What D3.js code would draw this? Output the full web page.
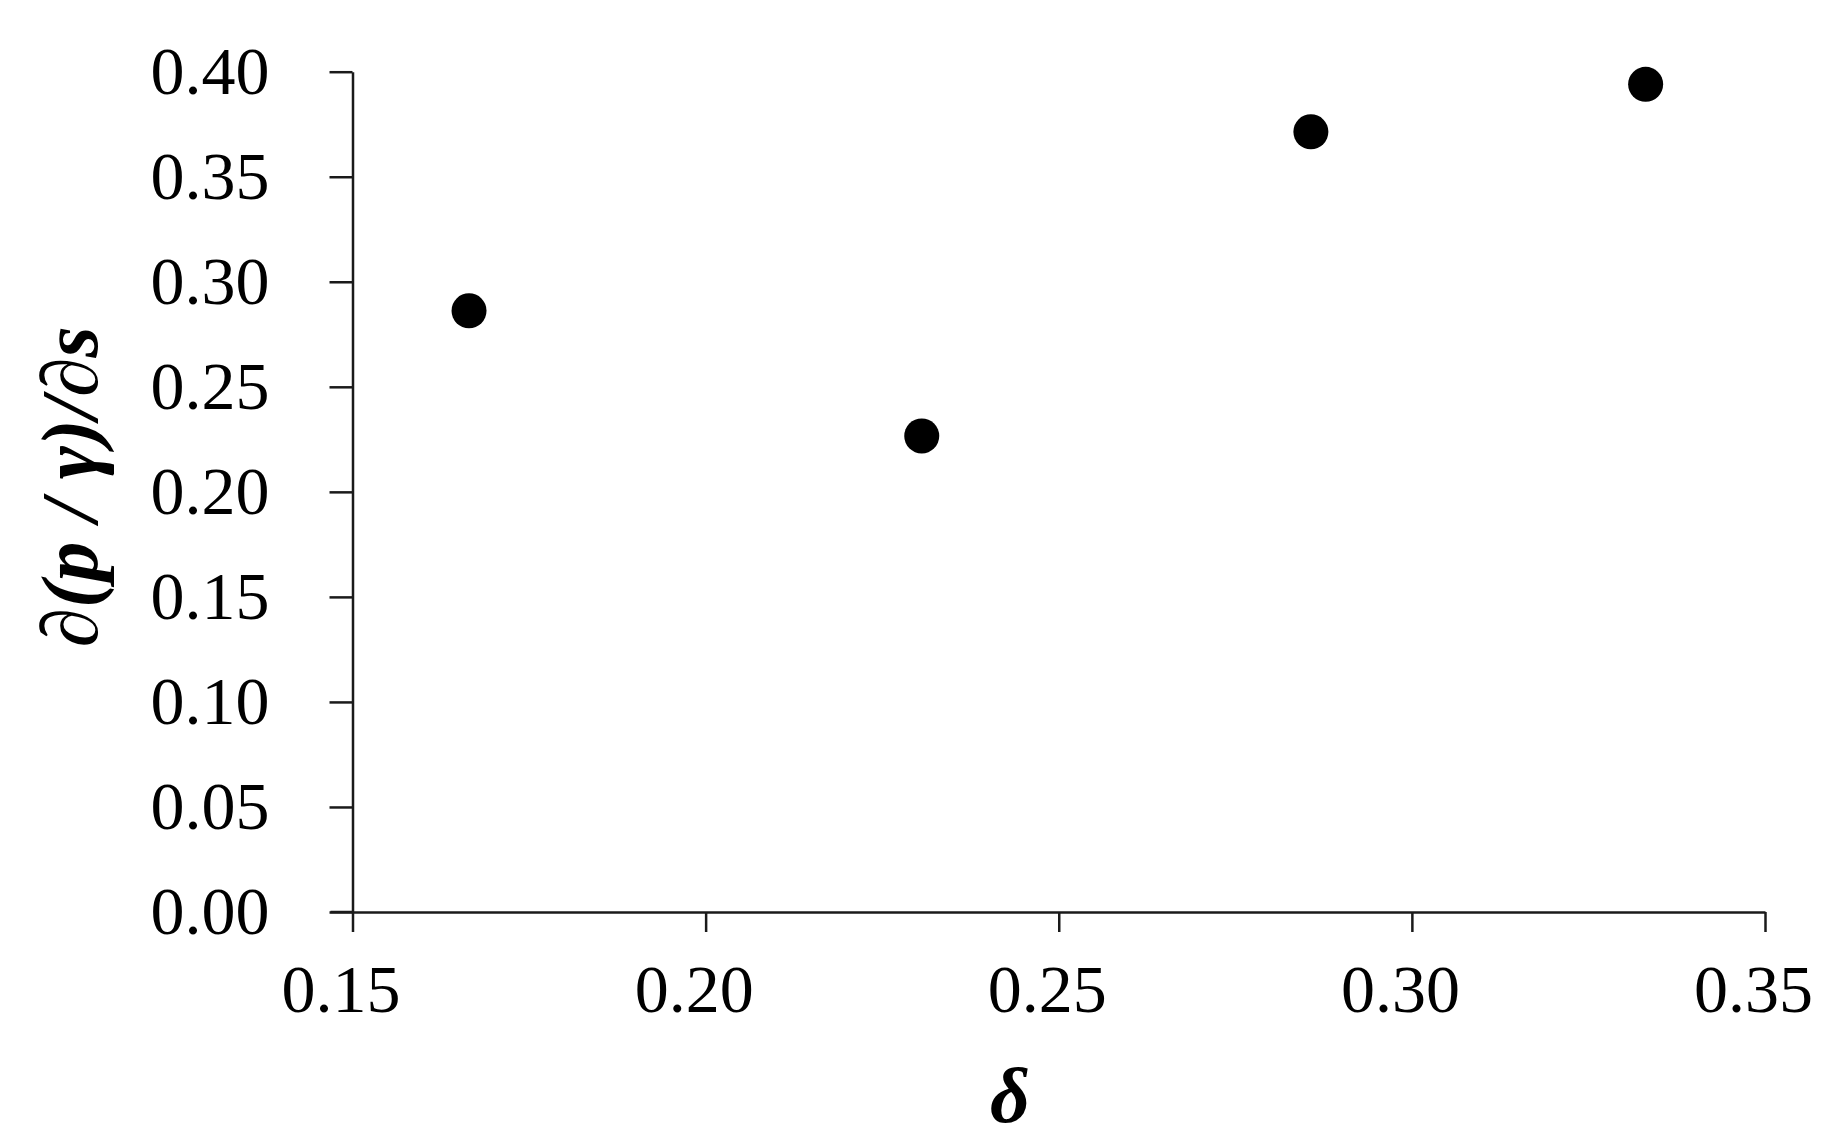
<!DOCTYPE html>
<html>
<head>
<meta charset="utf-8">
<script src="https://cdn.jsdelivr.net/npm/d3@7"></script>
<style>
  html, body { margin: 0; padding: 0; background: #fff; }
  svg { display: block; }
  text { font-family: "Liberation Serif", "Times New Roman", serif; fill: #000; }
</style>
</head>
<body>
<svg id="chart" width="1837" height="1145"></svg>
<script>
// Data
const deltaValues = [0.1665, 0.2306, 0.2857, 0.3331];
const slopeValues = [0.2862, 0.2266, 0.3714, 0.3940];
const xTicks = [0.15, 0.20, 0.25, 0.30, 0.35];
const yTicks = [0.00, 0.05, 0.10, 0.15, 0.20, 0.25, 0.30, 0.35, 0.40];
const xTitle = "δ";

const svg = d3.select("#chart");
const x = d3.scaleLinear().domain([0.15, 0.35]).range([352.5, 1765]);
const y = d3.scaleLinear().domain([0, 0.40]).range([912, 71.7]);

const axisColor = "#1a1a1a";
const fontSize = 68;

// Y axis
const yAxis = svg.append("g")
  .attr("transform", `translate(${x.range()[0]},0)`)
  .call(d3.axisLeft(y).tickValues(yTicks).tickFormat(d3.format(".2f")).tickSize(23).tickSizeOuter(0).tickPadding(60));
yAxis.select(".domain").attr("stroke", axisColor).attr("stroke-width", 2.5);
yAxis.selectAll(".tick line").attr("stroke", axisColor).attr("stroke-width", 2.5);
yAxis.selectAll(".tick text").attr("font-size", fontSize).attr("font-family", "Liberation Serif").attr("fill", "#000");

// X axis
const xAxis = svg.append("g")
  .attr("transform", `translate(0,${y.range()[0]})`)
  .call(d3.axisBottom(x).tickValues(xTicks).tickFormat(d3.format(".2f")).tickSize(20).tickSizeOuter(0).tickPadding(32));
xAxis.select(".domain").attr("stroke", axisColor).attr("stroke-width", 2.5);
xAxis.selectAll(".tick line").attr("stroke", axisColor).attr("stroke-width", 2.5);
xAxis.selectAll(".tick text").attr("font-size", fontSize).attr("font-family", "Liberation Serif").attr("fill", "#000").attr("dx", -12);

// Extend x axis line slightly left past y axis (as in reference)
svg.append("line")
  .attr("x1", x.range()[0] - 22).attr("x2", x.range()[0])
  .attr("y1", y.range()[0]).attr("y2", y.range()[0])
  .attr("stroke", axisColor).attr("stroke-width", 2.5);

// Points
svg.append("g").selectAll("circle")
  .data(deltaValues.map((d, i) => [d, slopeValues[i]]))
  .join("circle")
  .attr("cx", d => x(d[0]))
  .attr("cy", d => y(d[1]))
  .attr("r", 17.5)
  .attr("fill", "#000");

// Y axis title
const yTitle = svg.append("text")
  .attr("transform", "translate(97,487) rotate(-90)")
  .attr("text-anchor", "middle")
  .attr("font-size", 80)
  .attr("font-weight", "bold")
  .attr("font-style", "italic");
yTitle.append("tspan").text("∂(");
yTitle.append("tspan").text("p");
yTitle.append("tspan").text(" / ");
yTitle.append("tspan").text("γ");
yTitle.append("tspan").text(")/∂");
yTitle.append("tspan").text("s");

// X axis title
svg.append("text")
  .attr("x", 1010)
  .attr("y", 1122)
  .attr("text-anchor", "middle")
  .attr("font-size", 78)
  .attr("font-weight", "bold")
  .attr("font-style", "italic")
  .text(xTitle);
</script>
</body>
</html>
